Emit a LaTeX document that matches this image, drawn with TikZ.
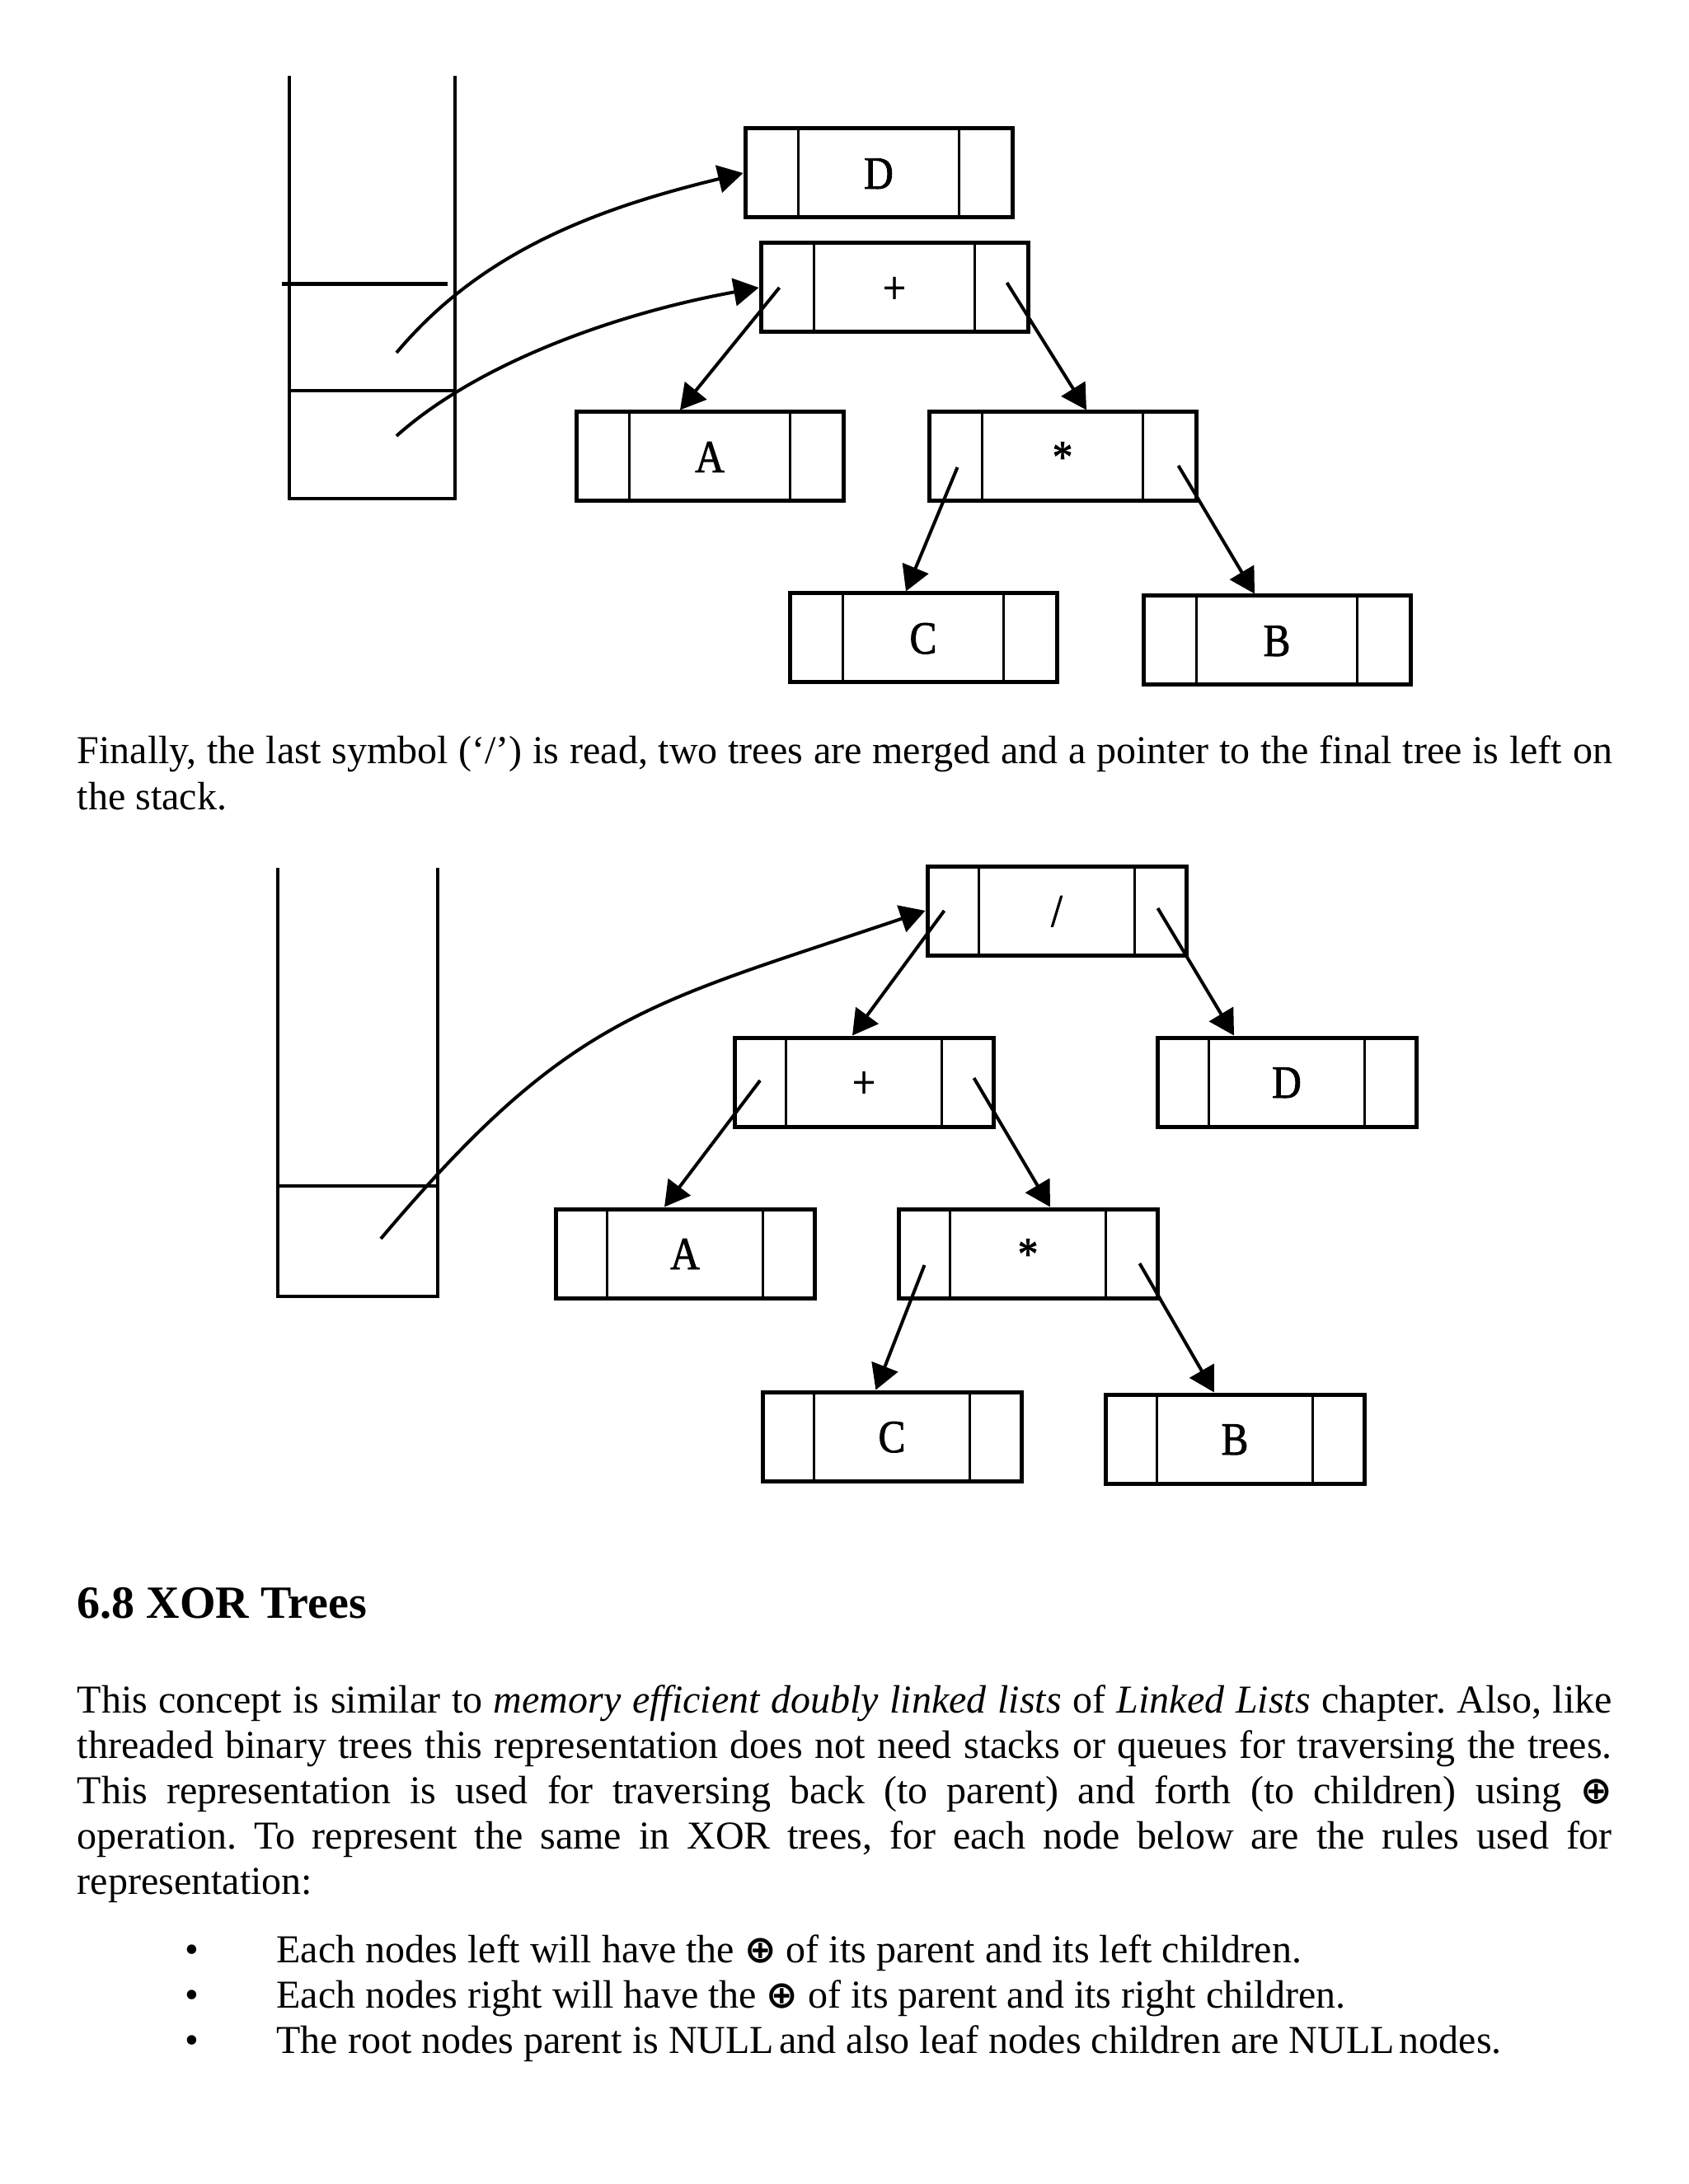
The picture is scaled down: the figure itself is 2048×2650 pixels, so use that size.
\documentclass[tikz,border=0pt]{standalone}
\usepackage{fontspec}
\setmainfont{Liberation Serif}
\newfontfamily\symfont{DejaVu Sans}
\newfontfamily\boxfont[FakeStretch=0.88,FakeBold=1.5]{Liberation Serif}
\usetikzlibrary{arrows.meta,calc}

\newcommand{\xor}{{\symfont\bfseries\fontsize{11.5pt}{12pt}\selectfont ⊕}}

\tikzset{
  tnode/.style={draw, line width=1.25pt, minimum width=#1, minimum height=27pt, inner sep=0pt,
    font=\boxfont\fontsize{14pt}{15pt}\selectfont, text height=9.5pt, text depth=0pt,
    path picture={
      \draw[line width=0.8pt] ($(path picture bounding box.north west)!0.2!(path picture bounding box.north east)$)
        -- ($(path picture bounding box.south west)!0.2!(path picture bounding box.south east)$);
      \draw[line width=0.8pt] ($(path picture bounding box.north west)!0.8!(path picture bounding box.north east)$)
        -- ($(path picture bounding box.south west)!0.8!(path picture bounding box.south east)$);
    }},
  ptr/.style={-{Triangle[length=7.6pt,width=8.4pt]}, line width=1pt},
  stackline/.style={line width=1pt},
  body/.style={anchor=base west, inner sep=0pt, font=\fontsize{12pt}{13.75pt}\selectfont\frenchspacing}
}

\begin{document}
\begin{tikzpicture}[x=0.25pt, y=-0.25pt]
  \useasboundingbox (0,0) rectangle (2048,2650);

  % stack before the last merge
  \draw[stackline] (351,92) -- (351,605) -- (552,605) -- (552,92);
  \draw[line width=1.25pt] (342,345) -- (543,345);
  \draw[stackline] (351,474) -- (552,474);
  \coordinate (s1) at (481,428);
  \coordinate (s2) at (481,529);

  \node[tnode=81pt] (tD) at (1066,210) {D};
  \node[tnode=81pt] (tplus) at (1085,349) {+};
  \node[tnode=81pt] (tA) at (861,554) {A};
  \node[tnode=81pt] (tstar) at (1289,554) {*};
  \node[tnode=81pt] (tC) at (1120,774) {C};
  \node[tnode=81pt] (tB) at (1549,777) {B};

  \draw[ptr] (s1) .. controls (584,305) and (724,253) .. (tD.west);
  \draw[ptr] (s2) .. controls (578,442) and (744,381) .. (tplus.west);
  \draw[ptr] ([xshift=6.25pt]tplus.west) -- ([xshift=-9pt]tA.north);
  \draw[ptr] ([xshift=-7pt,yshift=1.5pt]tplus.east) -- ([xshift=7.25pt]tstar.north);
  \draw[ptr] ([xshift=9.25pt,yshift=-3.25pt]tstar.west) -- ([xshift=-5.25pt]tC.north);
  \draw[ptr] ([xshift=-6pt,yshift=-2.75pt]tstar.east) -- ([xshift=-6.75pt]tB.north);

  \node[body, text width=465.5pt, align=justify] (fin) at (93,927)
    {Finally, the last symbol (‘/’) is read, two trees are merged and a pointer to the final tree is left on\linebreak the stack.};

  % final tree
  \draw[stackline] (337,1053) -- (337,1573) -- (530.5,1573) -- (530.5,1053);
  \draw[stackline] (337,1439) -- (530.5,1439);
  \coordinate (s3) at (462,1503);

  \node[tnode=78.5pt] (bdiv) at (1282,1105) {/};
  \node[tnode=78.5pt] (bplus) at (1048,1313) {+};
  \node[tnode=78.5pt] (bD) at (1561,1313) {D};
  \node[tnode=78.5pt] (bA) at (831,1521) {A};
  \node[tnode=78.5pt] (bstar) at (1247,1521) {*};
  \node[tnode=78.5pt] (bC) at (1082,1743) {C};
  \node[tnode=78.5pt] (bB) at (1498,1746) {B};

  \draw[ptr] (s3) .. controls (693,1229) and (786,1219) .. (bdiv.west);
  \draw[ptr] ([xshift=5.75pt]bdiv.west) -- ([xshift=-3.5pt]bplus.north);
  \draw[ptr] ([xshift=-9.25pt,yshift=0.75pt]bdiv.east) -- ([xshift=-16pt]bD.north);
  \draw[ptr] ([xshift=8.4pt,yshift=0.5pt]bplus.west) -- ([xshift=-6.25pt]bA.north);
  \draw[ptr] ([xshift=-6.5pt,yshift=1.25pt]bplus.east) -- ([xshift=6.75pt]bstar.north);
  \draw[ptr] ([xshift=8.5pt,yshift=-3.5pt]bstar.west) -- ([xshift=-4.9pt]bC.north);
  \draw[ptr] ([xshift=-6pt,yshift=-3pt]bstar.east) -- ([xshift=-6.25pt]bB.north);

  \node[anchor=base west, inner sep=0pt, font=\fontsize{14pt}{16pt}\selectfont\bfseries] (head) at (93,1963) {6.8 XOR Trees};

  \node[body, text width=465.5pt, align=justify] (para) at (93,2078)
    {This concept is similar to \textit{memory efficient doubly linked lists} of \textit{Linked Lists} chapter. Also, like\linebreak
     threaded binary trees this representation does not need stacks or queues for traversing the trees.\linebreak
     This representation is used for traversing back (to parent) and forth (to children) using \xor\linebreak
     operation. To represent the same in XOR trees, for each node below are the rules used for\linebreak
     representation:};

  \node[body] (dot1) at (224,2381) {•};
  \node[body] (item1) at (334.6,2381) {Each nodes left will have the \xor{} of its parent and its left children.};
  \node[body] (dot2) at (224,2436) {•};
  \node[body] (item2) at (334.6,2436) {Each nodes right will have the \xor{} of its parent and its right children.};
  \node[body] (dot3) at (224,2491) {•};
  \node[body] (item3) at (334.6,2491) {The root nodes parent is NULL\kern-1.5pt{} and also leaf nodes children are NULL\kern-1.5pt{} nodes.};
\end{tikzpicture}
\end{document}
